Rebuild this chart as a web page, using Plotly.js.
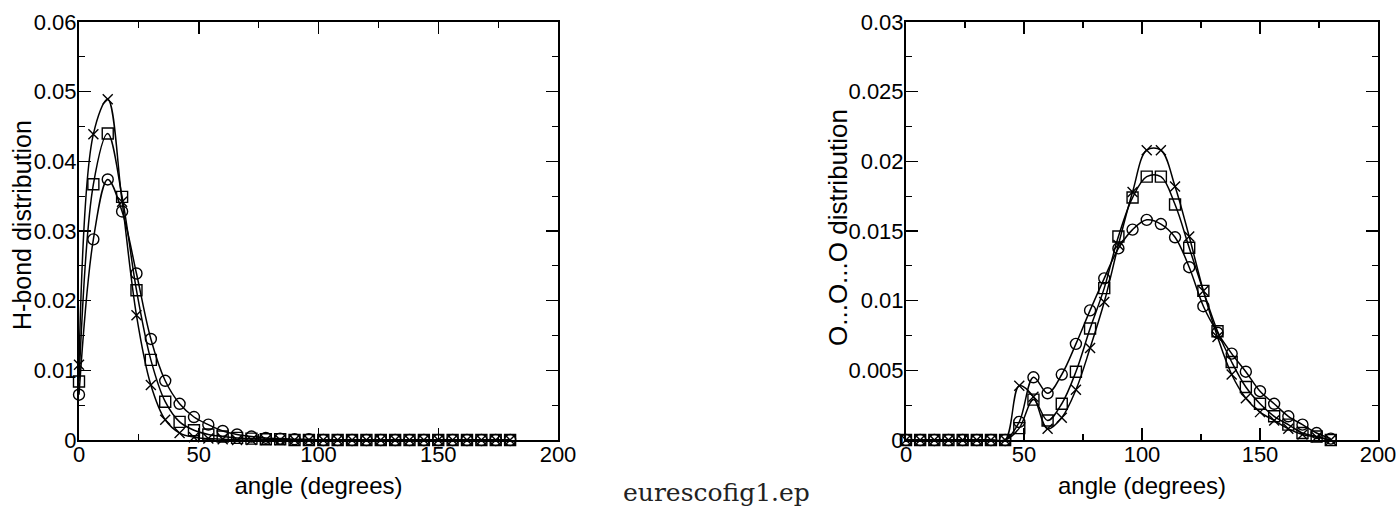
<!DOCTYPE html>
<html>
<head>
<meta charset="utf-8">
<script src="https://cdn.plot.ly/plotly-3.0.1.min.js"></script>
<style>html,body{margin:0;padding:0;background:#fff;}#chart{width:1397px;height:508px;}</style>
</head>
<body>
<div id="chart"></div>
<script>
// angle values (degrees)
const angles = [0,6,12,18,24,30,36,42,48,54,60,66,72,78,84,90,96,102,108,114,120,126,132,138,144,150,156,162,168,174,180];

// Left panel: H-bond distribution
const hbCircle = [0.0065,0.0288,0.0374,0.0328,0.0239,0.0145,0.0085,0.0052,0.0033,0.0022,0.0013,0.0008,0.0005,0.0003,0.0002,0.0001,0.0001,0,0,0,0,0,0,0,0,0,0,0,0,0,0];
const hbSquare = [0.0084,0.0367,0.0440,0.0349,0.0215,0.0115,0.0055,0.0026,0.0014,0.0008,0.0005,0.0003,0.0002,0.0001,0.0001,0,0,0,0,0,0,0,0,0,0,0,0,0,0,0,0];
const hbCross  = [0.0108,0.0439,0.0489,0.0342,0.0179,0.0079,0.0029,0.0010,0.0004,0.0002,0.0001,0,0,0,0,0,0,0,0,0,0,0,0,0,0,0,0,0,0,0,0];

// Right panel: O...O...O distribution
const ooCircle = [0,0,0,0,0,0,0,0,0.0013,0.0045,0.00335,0.0047,0.0069,0.0093,0.0116,0.01375,0.0151,0.0158,0.0155,0.01455,0.0124,0.0096,0.0077,0.0062,0.0049,0.0035,0.0026,0.0017,0.0011,0.0005,0.0001];
const ooSquare = [0,0,0,0,0,0,0,0,0.00085,0.0029,0.0014,0.0026,0.0049,0.0080,0.0109,0.0146,0.0174,0.0189,0.0189,0.0169,0.0138,0.0107,0.0078,0.0056,0.0038,0.0026,0.0017,0.0011,0.0005,0.00025,0];
const ooCross  = [0,0,0,0,0,0,0,0,0.0039,0.0031,0.0008,0.0016,0.0036,0.0066,0.0099,0.0140,0.0178,0.0208,0.0208,0.0182,0.0146,0.0107,0.0074,0.0047,0.0030,0.0020,0.0014,0.0008,0.0004,0.0002,0];

const W = 1397, H = 508;
const FONT = 'Liberation Sans, Arial, sans-serif';

function tr(y, sym, xa, ya) {
  return {
    x: angles, y: y, xaxis: xa, yaxis: ya,
    type: 'scatter', mode: 'lines+markers',
    line: {color: '#000', width: 1.5, shape: 'spline', smoothing: 1},
    marker: {symbol: sym, size: sym === 'x-thin-open' ? 10 : 11, color: '#000', line: {color: '#000', width: 1.4}},
    showlegend: false, hoverinfo: 'x+y', cliponaxis: false
  };
}

const data = [
  tr(hbCircle, 'circle-open', 'x', 'y'),
  tr(hbSquare, 'square-open', 'x', 'y'),
  tr(hbCross, 'x-thin-open', 'x', 'y'),
  tr(ooCircle, 'circle-open', 'x2', 'y2'),
  tr(ooSquare, 'square-open', 'x2', 'y2'),
  tr(ooCross, 'x-thin-open', 'x2', 'y2')
];

function xax(domain, anchor) {
  return {
    domain: domain, anchor: anchor, range: [0, 200], dtick: 50, tick0: 0,
    showline: true, linecolor: '#000', linewidth: 2, mirror: 'ticks',
    ticks: 'inside', ticklen: 12, tickwidth: 1.5, tickcolor: '#000',
    minor: {dtick: 25, ticks: 'inside', ticklen: 6, tickwidth: 1.2, tickcolor: '#000'},
    showgrid: false, zeroline: false, ticklabelstandoff: -6,
    tickfont: {family: FONT, size: 22, color: '#000'},
    title: {text: 'angle (degrees)', font: {family: FONT, size: 24, color: '#000'}, standoff: 11}
  };
}
function yax(domain, anchor, max, dt) {
  return {
    domain: domain, anchor: anchor, range: [0, max], dtick: dt, tick0: 0,
    showline: true, linecolor: '#000', linewidth: 2, mirror: 'ticks',
    ticks: 'inside', ticklen: 12, tickwidth: 1.5, tickcolor: '#000',
    minor: {dtick: dt / 2, ticks: 'inside', ticklen: 6, tickwidth: 1.2, tickcolor: '#000'},
    showgrid: false, zeroline: false, ticklabelstandoff: -4,
    tickfont: {family: FONT, size: 22, color: '#000'}
  };
}

const yd = [(H - 440) / H, (H - 22) / H];
const layout = {
  width: W, height: H,
  margin: {l: 0, r: 0, t: 0, b: 0},
  paper_bgcolor: '#fff', plot_bgcolor: '#fff',
  xaxis: xax([79 / W, 558 / W], 'y'),
  yaxis: yax(yd, 'x', 0.06, 0.01),
  xaxis2: xax([906 / W, 1378 / W], 'y2'),
  yaxis2: yax(yd, 'x2', 0.03, 0.005),
  annotations: [
    {text: 'H-bond distribution', xref: 'paper', yref: 'paper', x: 22 / W, y: (H - 225) / H,
     xanchor: 'center', yanchor: 'middle', textangle: -90, showarrow: false,
     font: {family: FONT, size: 25, color: '#000'}},
    {text: 'O...O...O distribution', xref: 'paper', yref: 'paper', x: 838 / W, y: (H - 228) / H,
     xanchor: 'center', yanchor: 'middle', textangle: -90, showarrow: false,
     font: {family: FONT, size: 26, color: '#000'}},
    {text: 'eurescofig1.ep', xref: 'paper', yref: 'paper', x: 621 / W, y: (H - 492) / H,
     xanchor: 'left', yanchor: 'middle', showarrow: false,
     font: {family: 'DejaVu Serif, serif', size: 25, color: '#222'}}
  ]
};

Plotly.newPlot('chart', data, layout, {staticPlot: true});
</script>
</body>
</html>
